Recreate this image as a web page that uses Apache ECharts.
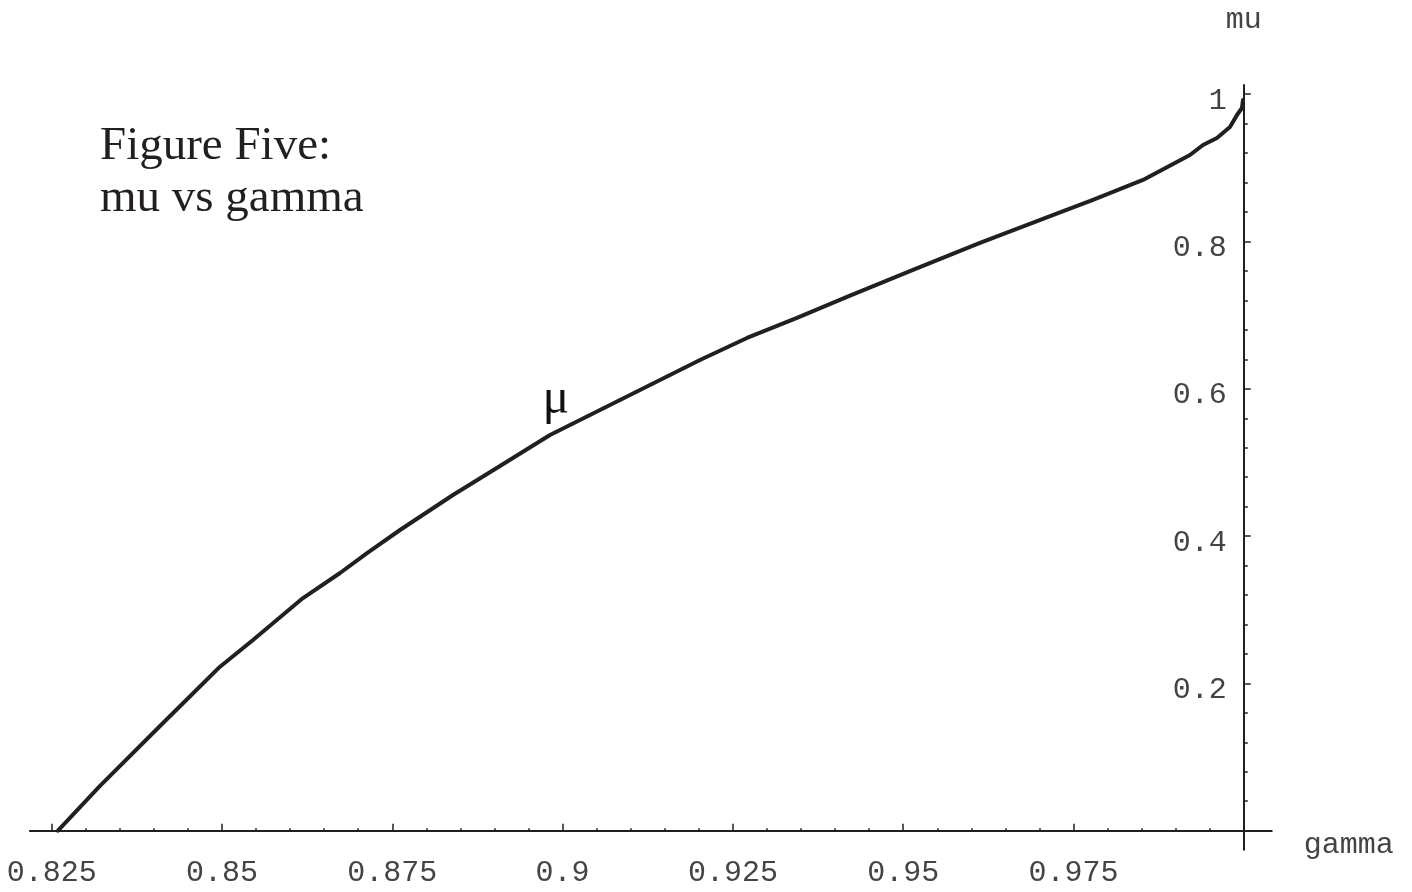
<!DOCTYPE html>
<html>
<head>
<meta charset="utf-8">
<title>Figure Five: mu vs gamma</title>
<script src="https://cdn.jsdelivr.net/npm/echarts@6/dist/echarts.min.js"></script>
<style>
  html, body { margin: 0; padding: 0; background: #ffffff; }
  #chart { width: 1412px; height: 892px; }
</style>
</head>
<body>
<div id="chart"></div>
<script>
// Curve samples: mu as a function of gamma
const gamma = [0.82592, 0.83209, 0.84090, 0.84971, 0.85455, 0.86189,
               0.86733, 0.87129, 0.87613, 0.88391, 0.89081, 0.89815, 0.90549, 0.91283,
               0.92017, 0.92707, 0.93441, 0.94175, 0.95144, 0.96127, 0.97302, 0.97786,
               0.98520, 0.99210, 0.99401, 0.99606, 0.99797, 0.99900, 0.99973, 0.99988];
const mu    = [0.0000, 0.0608, 0.1422, 0.2227, 0.2589, 0.3159,
               0.3499, 0.3770, 0.4083, 0.4558, 0.4952, 0.5373, 0.5713, 0.6052,
               0.6391, 0.6690, 0.6962, 0.7247, 0.7614, 0.7980, 0.8394, 0.8564,
               0.8836, 0.9174, 0.9310, 0.9405, 0.9555, 0.9718, 0.9813, 0.9921];

// Tick values and their printed labels
const xTickValues = [0.825, 0.85, 0.875, 0.9, 0.925, 0.95, 0.975];
const xTickLabels = ['0.825', '0.85', '0.875', '0.9', '0.925', '0.95', '0.975'];
const yTickValues = [0.2, 0.4, 0.6, 0.8, 1];
const yTickLabels = ['0.2', '0.4', '0.6', '0.8', '1'];

// Annotation text
const titleText = 'Figure Five:\nmu vs gamma';
const curveLabel = 'μ';
const curveLabelAt = [0.8990, 0.585];

// Plot frame: pixel position of gamma = 0.825 / mu = 0 and pixels per unit
const FRAME = { x0: 51.7, sx: 6812, y0: 830.7, sy: 736.5 };
const X_MIN = 0.825, X_MAX = 1.0, Y_MIN = 0, Y_MAX = 1;
// Axis lines run a little past the tick range
const X_LINE = [0.8218, 1.0041];
const Y_LINE = [-0.026, 1.0125];

const INK = '#231f20';
const TEXT = '#444444';
const MONO = '"Liberation Mono", "Courier New", monospace';
const SERIF = '"Liberation Serif", "Times New Roman", serif';

function px(g) { return FRAME.x0 + (g - X_MIN) * FRAME.sx; }
function py(m) { return FRAME.y0 - (m - Y_MIN) * FRAME.sy; }

function pick(values, labels, v) {
  for (let i = 0; i < values.length; i++) {
    if (Math.abs(values[i] - v) < 1e-9) return labels[i];
  }
  return '';
}

const mainGrid = {
  left: px(X_MIN), top: py(Y_MAX),
  width: px(X_MAX) - px(X_MIN), height: py(Y_MIN) - py(Y_MAX),
  outerBoundsMode: 'none', containLabel: false
};
const xLineGrid = {
  left: px(X_LINE[0]), top: py(Y_MAX),
  width: px(X_LINE[1]) - px(X_LINE[0]), height: py(Y_MIN) - py(Y_MAX),
  outerBoundsMode: 'none', containLabel: false
};
const yLineGrid = {
  left: px(X_MIN), top: py(Y_LINE[1]),
  width: px(X_MAX) - px(X_MIN), height: py(Y_LINE[0]) - py(Y_LINE[1]),
  outerBoundsMode: 'none', containLabel: false
};

const hiddenAxis = (gridIndex) => ({
  type: 'value', gridIndex, show: false, min: 0, max: 1
});

const chart = echarts.init(document.getElementById('chart'), null, { renderer: 'canvas' });

chart.setOption({
  backgroundColor: '#ffffff',
  animation: false,
  title: {
    text: titleText,
    left: 100, top: 121, padding: 0,
    textStyle: {
      fontFamily: SERIF, fontSize: 47, lineHeight: 52,
      fontWeight: 'normal', color: INK
    }
  },
  grid: [mainGrid, xLineGrid, yLineGrid],
  xAxis: [
    {
      type: 'value', gridIndex: 0, position: 'bottom',
      min: X_MIN, max: X_MAX, interval: 0.025,
      axisLine: { show: false, onZero: false },
      axisTick: { show: true, inside: true, length: 7, lineStyle: { color: INK, width: 1.5 } },
      minorTick: { show: true, splitNumber: 5, length: 2.5, lineStyle: { color: INK, width: 1.5 } },
      splitLine: { show: false },
      axisLabel: {
        show: true, margin: 27, showMinLabel: true, showMaxLabel: true,
        fontFamily: MONO, fontSize: 30, color: TEXT,
        formatter: (v) => pick(xTickValues, xTickLabels, v)
      }
    },
    {
      type: 'value', gridIndex: 1, position: 'bottom',
      min: X_LINE[0], max: X_LINE[1],
      axisLine: { show: true, onZero: false, lineStyle: { color: INK, width: 2 } },
      axisTick: { show: false }, axisLabel: { show: false }, splitLine: { show: false },
      name: 'gamma', nameLocation: 'end', nameGap: 32,
      nameTextStyle: {
        fontFamily: MONO, fontSize: 30, color: TEXT,
        verticalAlign: 'top', lineHeight: 28
      }
    },
    hiddenAxis(2)
  ],
  yAxis: [
    {
      type: 'value', gridIndex: 0, position: 'right',
      min: Y_MIN, max: Y_MAX, interval: 0.2,
      axisLine: { show: false, onZero: false },
      axisTick: { show: true, inside: false, length: 7, lineStyle: { color: INK, width: 1.5 } },
      minorTick: { show: true, splitNumber: 5, length: 4, lineStyle: { color: INK, width: 1.5 } },
      splitLine: { show: false },
      axisLabel: {
        show: true, inside: true, margin: 17, showMinLabel: true, showMaxLabel: true,
        fontFamily: MONO, fontSize: 30, color: TEXT,
        verticalAlign: 'top', lineHeight: 13,
        formatter: (v) => pick(yTickValues, yTickLabels, v)
      }
    },
    hiddenAxis(1),
    {
      type: 'value', gridIndex: 2, position: 'right',
      min: Y_LINE[0], max: Y_LINE[1],
      axisLine: { show: true, onZero: false, lineStyle: { color: INK, width: 2 } },
      axisTick: { show: false }, axisLabel: { show: false }, splitLine: { show: false },
      name: 'mu', nameLocation: 'end', nameGap: 50,
      nameTextStyle: { fontFamily: MONO, fontSize: 30, color: TEXT }
    }
  ],
  series: [
    {
      type: 'line',
      xAxisIndex: 0, yAxisIndex: 0,
      data: gamma.map((g, i) => [g, mu[i]]),
      showSymbol: false, symbol: 'none', smooth: false, clip: false,
      lineStyle: { color: INK, width: 4, cap: 'round', join: 'round' },
      markPoint: {
        symbol: 'circle', symbolSize: 2,
        itemStyle: { color: 'rgba(0,0,0,0)' },
        label: {
          show: true, position: 'inside', formatter: curveLabel,
          fontFamily: SERIF, fontSize: 50, color: '#111111'
        },
        data: [{ coord: curveLabelAt }]
      }
    }
  ]
});
</script>
</body>
</html>
